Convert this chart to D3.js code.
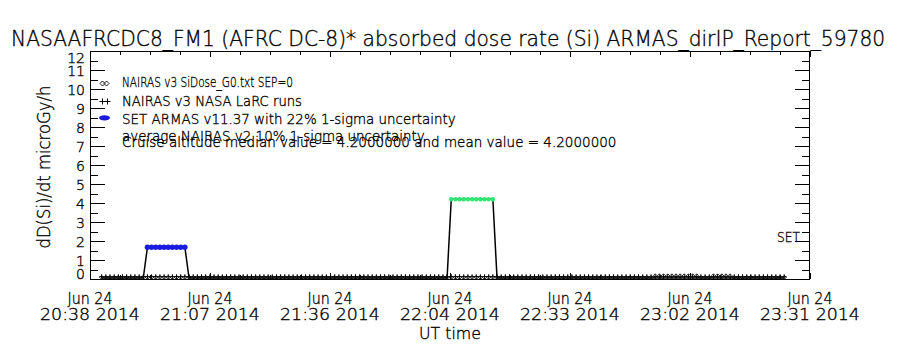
<!DOCTYPE html>
<html>
<head>
<meta charset="utf-8">
<script src="https://cdn.jsdelivr.net/npm/d3@7"></script>
<style>
  body { margin: 0; background: #fff; }
  text { font-family: "DejaVu Sans", "Liberation Sans", sans-serif; font-weight: 200; fill: #000;
         stroke: #000; stroke-width: 0.35px; }
</style>
</head>
<body>
<svg id="chart" width="900" height="350"></svg>
<script>
// ---- chart data ----
const titleText = "NASAAFRCDC8_FM1 (AFRC DC-8)* absorbed dose rate (Si) ARMAS_dirIP_Report_59780";
const yTitle = "dD(Si)/dt microGy/h";
const xTitle = "UT time";
const legendLabels = [
  "NAIRAS v3 SiDose_G0.txt SEP=0",
  "NAIRAS v3 NASA LaRC runs",
  "SET ARMAS v11.37 with 22% 1-sigma uncertainty"
];
const noteLines = [
  "average NAIRAS v2 10% 1-sigma uncertainty",
  "Cruise altitude median value = 4.2000000 and mean value = 4.2000000"
];
const sideLabel = "SET";

const yTicks = [0, 1, 2, 3, 4, 5, 6, 7, 8, 9, 10, 11, 12];
const yMinorTicks = [0.5, 1.5, 2.5, 3.5, 4.5, 5.5, 6.5, 7.5, 8.5, 9.5, 10.5, 11.5];
const xDomain = ["2014-06-24T20:38:24Z", "2014-06-24T23:31:24Z"];
const xTicks = ["2014-06-24T20:38:24Z", "2014-06-24T21:07:14Z", "2014-06-24T21:36:04Z",
                "2014-06-24T22:04:54Z", "2014-06-24T22:33:44Z", "2014-06-24T23:02:34Z",
                "2014-06-24T23:31:24Z"];

// one-minute samples starting at this time
const sampleStart = "2014-06-24T20:41:12Z";
const sampleStepMs = 60000;

// ARMAS measured dose rate (microGy/h)
const armasDose = [
  0.05,0.05,0.05,0.05,0.05,0.05,0.05,0.05,0.05,0.05,0.05,1.67,1.67,1.67,1.67,
  1.67,1.67,1.67,1.67,1.67,1.67,0.05,0.05,0.05,0.05,0.05,0.05,0.05,0.05,0.05,
  0.05,0.05,0.05,0.05,0.05,0.05,0.05,0.05,0.05,0.05,0.05,0.05,0.05,0.05,0.05,
  0.05,0.05,0.05,0.05,0.05,0.05,0.05,0.05,0.05,0.05,0.05,0.05,0.05,0.05,0.05,
  0.05,0.05,0.05,0.05,0.05,0.05,0.05,0.05,0.05,0.05,0.05,0.05,0.05,0.05,0.05,
  0.05,0.05,0.05,0.05,0.05,0.05,0.05,0.05,0.05,4.2,4.2,4.2,4.2,4.2,4.2,
  4.2,4.2,4.2,4.2,4.2,0.05,0.05,0.05,0.05,0.05,0.05,0.05,0.05,0.05,0.05,
  0.05,0.05,0.05,0.05,0.05,0.05,0.05,0.05,0.05,0.05,0.05,0.05,0.05,0.05,0.05,
  0.05,0.05,0.05,0.05,0.05,0.05,0.05,0.05,0.05,0.05,0.05,0.05,0.05,0.05,0.05,
  0.05,0.05,0.05,0.05,0.05,0.05,0.05,0.05,0.05,0.05,0.05,0.05,0.05,0.05,0.05,
  0.05,0.05,0.05,0.05,0.05,0.05,0.05,0.05,0.05,0.05,0.05,0.05,0.05,0.05,0.05
];
// cruise segment of the flight (ARMAS points drawn green)
const cruiseWindow = ["2014-06-24T22:05:00Z", "2014-06-24T22:17:00Z"];

// NAIRAS v3 NASA LaRC runs (plus symbols)
const nairasLarc = [
  0.12,0.12,0.12,0.12,0.12,0.12,0.12,0.12,0.12,0.12,0.12,0.12,0.12,0.12,0.12,
  0.12,0.12,0.12,0.12,0.12,0.12,0.12,0.12,0.12,0.12,0.12,0.12,0.12,0.12,0.12,
  0.12,0.12,0.12,0.12,0.12,0.12,0.12,0.12,0.12,0.12,0.12,0.12,0.12,0.12,0.12,
  0.12,0.12,0.12,0.12,0.12,0.12,0.12,0.12,0.12,0.12,0.12,0.12,0.12,0.12,0.12,
  0.12,0.12,0.12,0.12,0.12,0.12,0.12,0.12,0.12,0.12,0.12,0.12,0.12,0.12,0.12,
  0.12,0.12,0.12,0.12,0.12,0.12,0.12,0.12,0.12,0.12,0.12,0.12,0.12,0.12,0.12,
  0.12,0.12,0.12,0.12,0.12,0.12,0.12,0.12,0.12,0.12,0.12,0.12,0.12,0.12,0.12,
  0.12,0.12,0.12,0.12,0.12,0.12,0.12,0.12,0.12,0.12,0.12,0.12,0.12,0.12,0.12,
  0.12,0.12,0.12,0.12,0.12,0.12,0.12,0.12,0.12,0.12,0.12,0.12,0.12,0.12,0.12,
  0.12,0.12,0.12,0.12,0.12,0.12,0.12,0.12,0.12,0.12,0.12,0.12,0.12,0.12,0.12,
  0.12,0.12,0.12,0.12,0.12,0.12,0.12,0.12,0.12,0.12,0.12,0.12,0.12,0.12,0.12
];

// NAIRAS v3 SiDose_G0 (diamond symbols)
const nairasG0 = [
  0.08,0.08,0.08,0.08,0.08,0.08,0.08,0.08,0.08,0.08,0.08,0.08,0.08,0.08,0.08,
  0.08,0.08,0.08,0.08,0.08,0.08,0.08,0.08,0.08,0.08,0.08,0.08,0.08,0.08,0.08,
  0.08,0.08,0.08,0.08,0.08,0.08,0.08,0.08,0.08,0.08,0.08,0.08,0.08,0.08,0.08,
  0.08,0.08,0.08,0.08,0.08,0.08,0.08,0.08,0.08,0.08,0.08,0.08,0.08,0.08,0.08,
  0.08,0.08,0.08,0.08,0.08,0.08,0.08,0.08,0.08,0.08,0.08,0.08,0.08,0.08,0.08,
  0.08,0.08,0.08,0.08,0.08,0.08,0.08,0.08,0.08,0.08,0.08,0.08,0.08,0.08,0.08,
  0.08,0.08,0.08,0.08,0.08,0.08,0.08,0.08,0.08,0.08,0.08,0.08,0.08,0.08,0.08,
  0.08,0.08,0.08,0.08,0.08,0.08,0.08,0.08,0.08,0.08,0.08,0.08,0.08,0.08,0.08,
  0.08,0.08,0.08,0.08,0.08,0.08,0.08,0.08,0.08,0.08,0.08,0.08,0.08,0.17,0.17,
  0.17,0.17,0.17,0.17,0.17,0.17,0.17,0.17,0.17,0.08,0.08,0.08,0.17,0.17,0.17,
  0.17,0.17,0.08,0.08,0.08,0.08,0.08,0.08,0.08,0.08,0.08,0.08,0.08,0.08,0.08
];

// ---- layout ----
const W = 900, H = 350;
const plot = { left: 90, right: 810, top: 51, bottom: 279 };
const BLUE = "#1a1ae0", GREEN = "#2ee872";
const FONT = '"DejaVu Sans", "Liberation Sans", sans-serif';

const svg = d3.select("#chart");
svg.append("rect").attr("width", W).attr("height", H).attr("fill", "#fff");

const x = d3.scaleUtc().domain(xDomain.map(s => new Date(s))).range([plot.left, plot.right]);
const y = d3.scaleLinear().domain([yTicks[0], yTicks[yTicks.length - 1]]).range([plot.bottom, plot.top]);

const t0 = new Date(sampleStart).getTime();
const times = armasDose.map((_, i) => new Date(t0 + i * sampleStepMs));
const cw = cruiseWindow.map(s => new Date(s));

// text squeezed horizontally to a given width, anchored at (x, y)
function fitText(parent, str, px, py, size, width, anchor) {
  const g = parent.append("g").attr("transform", `translate(${px},${py})`);
  const t = g.append("text").attr("font-size", size).text(str);
  const natural = t.node().getComputedTextLength();
  const k = width / natural;
  const shift = anchor === "middle" ? -width / 2 : 0;
  t.attr("transform", `translate(${shift},0) scale(${k},1)`);
  return g;
}

// ---- axes ----
function styleAxis(g) {
  g.select(".domain").remove();
  g.selectAll("line").attr("stroke", "#000").attr("stroke-width", 1);
  g.attr("shape-rendering", "crispEdges");
}

// left: major with labels, minor ticks
const gL = svg.append("g").attr("transform", `translate(${plot.left},0)`)
  .call(d3.axisLeft(y).tickValues(yTicks).tickSize(-15).tickSizeOuter(0).tickPadding(5).tickFormat(d3.format("d")))
  .call(styleAxis);
gL.attr("font-family", FONT).attr("font-size", 14);
gL.selectAll("text").attr("font-size", 14).attr("font-family", FONT).attr("font-weight", 200)
  .attr("dy", d => d === yTicks[yTicks.length - 1] ? "0.79em" : d === yTicks[0] ? "-0.07em" : "0.36em");
svg.append("g").attr("transform", `translate(${plot.left},0)`)
  .call(d3.axisLeft(y).tickValues(yMinorTicks).tickSize(-8).tickSizeOuter(0).tickFormat(""))
  .call(styleAxis);

// right: mirrored ticks
svg.append("g").attr("transform", `translate(${plot.right},0)`)
  .call(d3.axisRight(y).tickValues(yTicks).tickSize(-15).tickSizeOuter(0).tickFormat(""))
  .call(styleAxis);
svg.append("g").attr("transform", `translate(${plot.right},0)`)
  .call(d3.axisRight(y).tickValues(yMinorTicks).tickSize(-8).tickSizeOuter(0).tickFormat(""))
  .call(styleAxis);

// x major / minor ticks (minor splits each major interval in four)
const xMajor = xTicks.map(s => new Date(s));
const xMinor = [];
for (let i = 0; i < xMajor.length - 1; i++) {
  const a = xMajor[i].getTime(), b = xMajor[i + 1].getTime();
  for (let k = 1; k < 4; k++) xMinor.push(new Date(a + (b - a) * k / 4));
}
[["bottom", plot.bottom], ["top", plot.top]].forEach(([side, py]) => {
  const maker = side === "bottom" ? d3.axisBottom : d3.axisTop;
  svg.append("g").attr("transform", `translate(0,${py})`)
    .call(maker(x).tickValues(xMajor).tickSize(-6).tickSizeOuter(0).tickFormat(""))
    .call(styleAxis);
  svg.append("g").attr("transform", `translate(0,${py})`)
    .call(maker(x).tickValues(xMinor).tickSize(-4).tickSizeOuter(0).tickFormat(""))
    .call(styleAxis);
});

// frame
svg.append("rect")
  .attr("x", plot.left + 0.5).attr("y", plot.top + 0.5)
  .attr("width", plot.right - plot.left - 1).attr("height", plot.bottom - plot.top)
  .attr("fill", "none").attr("stroke", "#000").attr("stroke-width", 1)
  .attr("shape-rendering", "crispEdges");

// x tick labels (two rows)
const fmtDay = d3.utcFormat("%b %d");
const fmtTime = d3.utcFormat("%H:%M %Y");
const xl = svg.append("g");
xMajor.forEach(d => {
  fitText(xl, fmtDay(d), x(d), 304, 16, 45, "middle");
  fitText(xl, fmtTime(d), x(d), 320, 16, 100, "middle");
});

// axis titles
fitText(svg, xTitle, (plot.left + plot.right) / 2, 339, 16, 62, "middle");
const yt = svg.append("g").attr("transform", `translate(50,${(plot.top + plot.bottom) / 2 + 2}) rotate(-90)`);
fitText(yt, yTitle, 0, 0, 17, 163, "middle");

// title
fitText(svg, titleText, 11, 46, 21, 875, "start");

// ---- data marks ----
const pts = times.map((t, i) => ({ t, armas: armasDose[i], larc: nairasLarc[i], g0: nairasG0[i] }));

// NAIRAS LaRC plus symbols
const plusPath = "M-2.5,0H2.5M0,-2.5V2.5";
svg.append("g").selectAll("path").data(pts).join("path")
  .attr("transform", d => `translate(${x(d.t)},${y(d.larc)})`)
  .attr("d", plusPath).attr("stroke", "#000").attr("stroke-width", 1).attr("fill", "none");

// NAIRAS G0 diamonds
const diamondPath = "M0,-2L2,0L0,2L-2,0Z";
svg.append("g").selectAll("path").data(pts).join("path")
  .attr("transform", d => `translate(${x(d.t)},${y(d.g0)})`)
  .attr("d", diamondPath).attr("stroke", "#000").attr("stroke-width", 0.8).attr("fill", "none");

// ARMAS line
svg.append("path").datum(pts)
  .attr("d", d3.line().x(d => x(d.t)).y(d => y(d.armas)))
  .attr("fill", "none").attr("stroke", "#000").attr("stroke-width", 1.5);

// ARMAS elevated points: blue, green within the cruise window
const elevated = pts.filter(d => d.armas > 0.5);
svg.append("g").selectAll("circle").data(elevated).join("circle")
  .attr("cx", d => x(d.t)).attr("cy", d => y(d.armas))
  .attr("r", d => (d.t >= cw[0] && d.t <= cw[1]) ? 2.2 : 2.7)
  .attr("fill", d => (d.t >= cw[0] && d.t <= cw[1]) ? GREEN : BLUE);

// ---- legend ----
const lg = svg.append("g");
const legendBase = [87, 105.5, 123.5];
const legendLen = [171, 180, 334];
legendLabels.forEach((s, i) => fitText(lg, s, 122, legendBase[i], 14, legendLen[i], "start"));
[102.5, 106.5].forEach(cx => lg.append("path")
  .attr("transform", `translate(${cx},83.5)`).attr("d", "M0,-2.5L2.5,0L0,2.5L-2.5,0Z")
  .attr("stroke", "#000").attr("stroke-width", 0.9).attr("fill", "none"));
[102.5, 107.5].forEach(cx => lg.append("path")
  .attr("transform", `translate(${cx},101.5)`).attr("d", "M-3,0H3M0,-3V3")
  .attr("stroke", "#000").attr("stroke-width", 1).attr("fill", "none"));
lg.append("ellipse").attr("cx", 104.5).attr("cy", 117.8).attr("rx", 5.5).attr("ry", 2.6).attr("fill", BLUE);

const noteBase = [141, 147];
const noteLen = [303, 495];
noteLines.forEach((s, i) => fitText(lg, s, 122, noteBase[i], 14, noteLen[i], "start"));

fitText(svg, sideLabel, 777, 242, 14, 23, "start");
</script>
</body>
</html>
